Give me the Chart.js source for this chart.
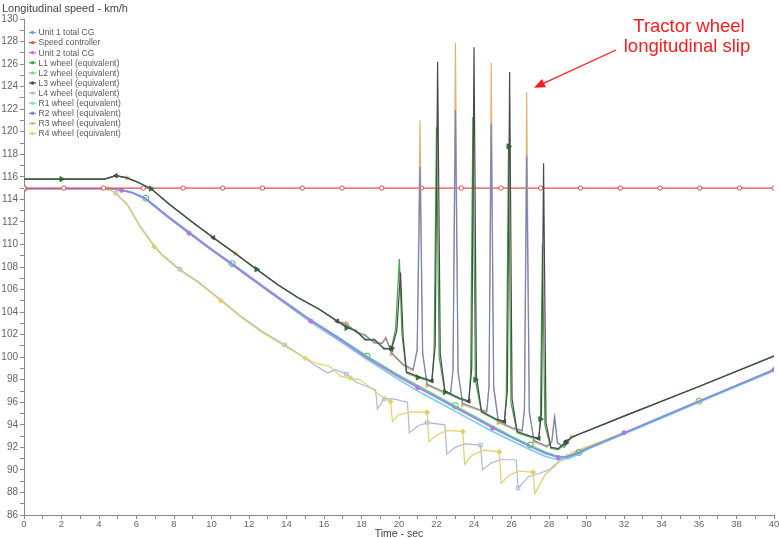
<!DOCTYPE html>
<html lang="en">
<head>
<meta charset="UTF-8">
<title>Longitudinal speed - km/h</title>
<script src="https://cdn.jsdelivr.net/npm/chart.js"></script>
<style>
  html, body { margin: 0; padding: 0; background: #fff; }
  #chart { display: block; }
</style>
</head>
<body>
<canvas id="chart" width="779" height="538"></canvas>
<script>
// ---- data (time in sec, speed in km/h) ----

// unit CGs, L2 and R1 wheels share one time base
const cgTime = [0, 4.6, 5.2, 5.8, 6.5, 7.6, 8.8, 10, 11.1, 13, 15.3, 16.7, 18.3, 19.9, 21, 22, 23, 24, 25, 26, 27, 27.8, 28.5, 29, 29.6, 30, 32, 34, 36, 38, 40];
const unit1Cg = [114.95, 114.95, 114.85, 114.6, 114.1, 112.6, 111.1, 109.6, 108.3, 106.0, 103.3, 101.8, 100.0, 98.4, 97.4, 96.5, 95.6, 94.7, 93.8, 92.9, 92.1, 91.5, 91.15, 91.15, 91.5, 91.85, 93.25, 94.65, 96.05, 97.45, 98.85];
const unit2Cg = [114.95, 114.95, 114.8, 114.55, 114.0, 112.5, 111.0, 109.5, 108.2, 105.9, 103.2, 101.7, 99.9, 98.3, 97.3, 96.4, 95.5, 94.6, 93.7, 92.85, 92.05, 91.45, 91.1, 91.2, 91.55, 91.9, 93.3, 94.7, 96.1, 97.5, 98.9];
const l2Wheel = [114.95, 114.95, 114.85, 114.6, 114.1, 112.6, 111.1, 109.6, 108.3, 106.0, 103.3, 101.85, 100.1, 98.5, 97.5, 96.6, 95.7, 94.8, 93.9, 93.0, 92.2, 91.6, 91.2, 91.2, 91.55, 91.9, 93.3, 94.7, 96.1, 97.5, 98.9];
const r1Wheel = [114.95, 114.95, 114.85, 114.6, 114.0, 112.55, 111.0, 109.5, 108.2, 105.9, 103.1, 101.6, 99.8, 98.1, 97.0, 96.1, 95.2, 94.3, 93.4, 92.6, 91.8, 91.2, 90.9, 91.0, 91.4, 91.8, 93.2, 94.6, 96.0, 97.4, 98.8];

// speed controller target
const ctrlTime = [0, 2.12, 4.24, 6.36, 8.48, 10.6, 12.72, 14.84, 16.96, 19.08, 21.2, 23.32, 25.44, 27.56, 29.68, 31.8, 33.92, 36.04, 38.16, 40];
const speedCtrl = [115, 115, 115, 115, 115, 115, 115, 115, 115, 115, 115, 115, 115, 115, 115, 115, 115, 115, 115, 115];

// tractor drive wheels, left side (slip spikes)
const l1Time = [0, 2, 4.3, 4.9, 5.5, 6.1, 6.77, 7.8, 8.97, 10.1, 11.27, 12.4, 13.56, 14.6, 15.7, 16.7, 17.2, 17.7, 18.2, 18.7, 19.2, 19.6, 19.82, 20.02, 20.16, 20.4, 21.0, 21.75, 21.87, 22.0, 22.14, 22.45, 23.2, 23.72, 23.82, 23.94, 24.07, 24.4, 25.2, 25.62, 25.72, 25.84, 25.97, 26.3, 27.0, 27.45, 27.54, 27.65, 27.78, 28.1, 28.5, 28.9, 29.2, 32, 36, 40];
const l1Wheel = [115.8, 115.8, 115.8, 116.1, 115.9, 115.5, 114.95, 113.5, 112.0, 110.6, 109.2, 107.8, 106.4, 105.3, 104.3, 103.2, 102.6, 102.4, 101.5, 101.6, 100.7, 100.8, 102.5, 108.7, 102.0, 98.6, 98.2, 97.8, 100.5, 120.4, 100.0, 96.9, 96.3, 96.0, 98.5, 121.3, 98.0, 95.1, 94.4, 94.2, 96.5, 118.7, 96.0, 93.3, 92.9, 92.7, 94.5, 110.0, 94.0, 91.9, 91.8, 92.4, 92.9, 94.77, 97.4, 100.1];
const l3Time = [0, 2, 4.3, 4.9, 5.5, 6.1, 6.77, 7.8, 8.97, 10.1, 11.27, 12.4, 13.56, 14.6, 15.7, 16.7, 17.2, 17.7, 18.2, 18.7, 19.2, 19.6, 19.88, 20.08, 20.22, 20.4, 21.0, 21.75, 21.93, 22.06, 22.2, 22.45, 23.2, 23.72, 23.88, 24.0, 24.13, 24.4, 25.2, 25.62, 25.78, 25.9, 26.03, 26.3, 27.0, 27.45, 27.6, 27.71, 27.84, 28.1, 28.5, 28.9, 29.2, 32, 36, 40];
const l3Wheel = [115.8, 115.8, 115.8, 116.1, 115.9, 115.5, 114.95, 113.5, 112.0, 110.6, 109.2, 107.8, 106.4, 105.3, 104.3, 103.2, 102.7, 102.3, 101.6, 101.5, 100.8, 100.7, 102.3, 107.5, 101.8, 98.7, 98.3, 97.9, 101.0, 126.2, 100.3, 97.0, 96.4, 96.1, 99.0, 127.5, 98.3, 95.2, 94.5, 94.3, 97.0, 125.3, 96.3, 93.4, 93.0, 92.8, 95.0, 117.2, 94.2, 92.0, 91.9, 92.5, 92.9, 94.77, 97.4, 100.1];

// tractor drive wheels, right side
const rightTime = [0, 2, 4.3, 4.9, 5.5, 6.1, 6.77, 7.8, 8.97, 10.1, 11.27, 12.4, 13.56, 14.6, 15.7, 16.7, 17.2, 17.7, 18.2, 18.7, 19.1, 19.3, 19.6, 20.2, 20.75, 20.97, 21.12, 21.26, 21.5, 22.3, 22.75, 22.88, 23.01, 23.15, 23.4, 24.2, 24.68, 24.8, 24.92, 25.05, 25.3, 26.1, 26.57, 26.69, 26.81, 26.95, 27.2, 27.9, 28.15, 28.3, 28.45, 28.8, 29.2, 32, 36, 40];
const r2Wheel = [115.8, 115.8, 115.8, 116.1, 115.9, 115.5, 114.95, 113.5, 112.0, 110.6, 109.2, 107.8, 106.4, 105.3, 104.3, 103.2, 102.9, 102.3, 101.9, 101.3, 101.2, 101.7, 100.4, 99.4, 98.9, 100.6, 116.9, 100.3, 97.6, 97.0, 96.8, 98.8, 121.9, 98.6, 95.9, 95.4, 95.2, 97.3, 120.7, 97.3, 94.3, 93.7, 93.5, 95.3, 117.8, 95.1, 92.6, 92.1, 92.5, 94.6, 92.4, 92.0, 92.9, 94.77, 97.4, 100.1];
const r3Wheel = [115.8, 115.8, 115.8, 116.1, 115.9, 115.5, 114.95, 113.5, 112.0, 110.6, 109.2, 107.8, 106.4, 105.3, 104.3, 103.2, 103.0, 102.2, 102.0, 101.2, 101.3, 101.8, 100.3, 99.3, 98.8, 100.8, 121.0, 100.5, 97.5, 96.9, 96.7, 99.0, 127.9, 98.8, 95.8, 95.3, 95.1, 97.5, 126.1, 97.5, 94.2, 93.6, 93.4, 95.5, 123.5, 95.3, 92.5, 92.0, 92.6, 95.0, 92.4, 92.0, 92.9, 94.77, 97.4, 100.1];

// trailer wheels (ABS sawtooth)
const l4Time = [0, 4.5, 4.9, 5.5, 6.2, 6.94, 7.38, 8.3, 9.3, 10.5, 11.6, 12.7, 13.9, 15.0, 15.6, 16.2, 16.6, 17.2, 17.7, 18.3, 18.75, 18.85, 19.2, 19.7, 20.45, 20.55, 21.0, 21.5, 22.45, 22.55, 23.0, 23.5, 24.35, 24.45, 24.9, 25.4, 26.25, 26.35, 26.9, 27.5, 28.0, 28.5, 29.0, 29.5, 32, 36, 40];
const l4Wheel = [114.95, 114.95, 114.55, 113.6, 111.6, 109.9, 109.1, 107.8, 106.7, 105.1, 103.6, 102.3, 101.1, 99.9, 99.2, 98.6, 98.9, 98.5, 97.8, 97.4, 97.1, 95.4, 96.3, 96.3, 96.0, 93.3, 93.9, 94.2, 94.0, 91.4, 92.0, 92.3, 92.2, 90.0, 90.6, 90.9, 90.9, 88.4, 89.4, 89.7, 90.0, 90.7, 91.2, 91.6, 93.3, 96.1, 98.9];
const r4Time = [0, 4.5, 4.9, 5.5, 6.2, 6.94, 7.38, 8.3, 9.3, 10.5, 11.6, 12.7, 13.9, 15.0, 15.7, 16.3, 16.9, 17.4, 17.9, 18.5, 19.0, 19.55, 19.65, 20.0, 20.6, 21.5, 21.6, 22.0, 22.6, 23.4, 23.5, 23.9, 24.5, 25.35, 25.45, 25.85, 26.4, 27.15, 27.25, 27.8, 28.3, 28.7, 29.3, 32, 36, 40];
const r4Wheel = [114.95, 114.95, 114.5, 113.5, 111.5, 109.8, 109.0, 107.7, 106.6, 105.0, 103.5, 102.2, 101.0, 99.9, 99.4, 99.2, 98.3, 98.15, 98.0, 97.3, 96.6, 96.05, 94.3, 94.9, 95.15, 95.1, 92.5, 93.1, 93.5, 93.4, 90.5, 91.3, 91.75, 91.6, 88.8, 89.5, 89.9, 89.8, 87.9, 89.6, 90.3, 91.0, 91.6, 93.3, 96.1, 98.9];

// where the red note points to
const slipTarget = { time: 27.2, speed: 123.9 };

const FONT = '"Liberation Sans", Arial, sans-serif';

function series(times, values) {
    return times.map((t, i) => ({ x: t, y: values[i] }));
}

// sparse markers like the simulation plot
function markerSize(every, offset, r) {
    return c => (c.dataIndex % every === offset ? r : 0);
}

function line(label, data, color, extra) {
    return Object.assign({
        label: label,
        data: data,
        borderColor: color,
        backgroundColor: color,
        borderWidth: 1.2,
        pointRadius: 0,
        pointBorderWidth: 1,
        pointBorderColor: color,
        pointBackgroundColor: color,
        fill: false
    }, extra);
}

const datasets = [
    line('Unit 1 total CG', series(cgTime, unit1Cg), '#6f9de2', { order: 6, borderWidth: 1.4 }),
    line('Speed controller', series(ctrlTime, speedCtrl), '#ee4a4a', {
        order: 5, pointRadius: 2.2, pointBackgroundColor: '#fff'
    }),
    line('Unit 2 total CG', series(cgTime, unit2Cg), '#d766d7', {
        order: 7, pointRadius: markerSize(4, 2, 2)
    }),
    line('L1 wheel (equivalent)', series(l1Time, l1Wheel), '#3ea83e', {
        order: 2, pointStyle: 'triangle', pointRotation: 90,
        pointRadius: markerSize(5, 1, 3), pointBackgroundColor: '#2b7d2b', pointBorderColor: '#2b7d2b'
    }),
    line('L2 wheel (equivalent)', series(cgTime, l2Wheel), '#74de74', {
        order: 9, pointRadius: markerSize(4, 0, 3), pointBackgroundColor: 'rgba(255,255,255,0)', pointBorderColor: '#48bb48'
    }),
    line('L3 wheel (equivalent)', series(l3Time, l3Wheel), '#4a4a4a', {
        order: 1, pointStyle: 'triangle', pointRotation: -90, pointRadius: markerSize(6, 3, 2.5)
    }),
    line('L4 wheel (equivalent)', series(l4Time, l4Wheel), '#aeb6dc', {
        order: 11, pointStyle: 'rect', pointRadius: markerSize(5, 2, 2.5), pointBackgroundColor: 'rgba(255,255,255,0)'
    }),
    line('R1 wheel (equivalent)', series(cgTime, r1Wheel), '#7fd5ef', { order: 8, borderWidth: 1.8 }),
    line('R2 wheel (equivalent)', series(rightTime, r2Wheel), '#7285c6', { order: 3 }),
    line('R3 wheel (equivalent)', series(rightTime, r3Wheel), '#e8b272', {
        order: 4, pointStyle: 'triangle', pointRotation: 90, pointRadius: markerSize(6, 4, 2.5)
    }),
    line('R4 wheel (equivalent)', series(r4Time, r4Wheel), '#e2d264', {
        order: 10, pointStyle: 'rectRot', pointRadius: markerSize(4, 1, 2.5)
    })
];

// legend drawn inside the plot, top-left
const insideLegend = {
    id: 'insideLegend',
    afterDraw(chart) {
        const ctx = chart.ctx;
        ctx.save();
        ctx.font = '8.5px ' + FONT;
        ctx.textBaseline = 'middle';
        ctx.textAlign = 'left';
        chart.data.datasets.forEach((ds, i) => {
            const y = 32.5 + i * 10.1;
            ctx.strokeStyle = ds.borderColor;
            ctx.lineWidth = 1.2;
            ctx.beginPath();
            ctx.moveTo(29, y);
            ctx.lineTo(36, y);
            ctx.stroke();
            ctx.fillStyle = ds.borderColor;
            ctx.beginPath();
            ctx.arc(32.5, y, 1.7, 0, Math.PI * 2);
            ctx.fill();
            ctx.fillStyle = '#5a5a5a';
            ctx.fillText(ds.label, 38.5, y + 0.5);
        });
        ctx.restore();
    }
};

// red note with arrow
const slipNote = {
    id: 'slipNote',
    afterDraw(chart) {
        const { ctx, scales } = chart;
        const tipX = scales.x.getPixelForValue(slipTarget.time);
        const tipY = scales.y.getPixelForValue(slipTarget.speed);
        const tailX = 616, tailY = 50;
        const ang = Math.atan2(tipY - tailY, tipX - tailX);
        const headLen = 11, headW = 4.5;
        const bx = tipX - headLen * Math.cos(ang);
        const by = tipY - headLen * Math.sin(ang);
        ctx.save();
        ctx.strokeStyle = '#ff1a1a';
        ctx.fillStyle = '#ff1a1a';
        ctx.lineWidth = 1.2;
        ctx.beginPath();
        ctx.moveTo(tailX, tailY);
        ctx.lineTo(bx, by);
        ctx.stroke();
        ctx.beginPath();
        ctx.moveTo(tipX, tipY);
        ctx.lineTo(bx - headW * Math.sin(ang), by + headW * Math.cos(ang));
        ctx.lineTo(bx + headW * Math.sin(ang), by - headW * Math.cos(ang));
        ctx.closePath();
        ctx.fill();
        ctx.font = '18.5px ' + FONT;
        ctx.textAlign = 'center';
        ctx.textBaseline = 'alphabetic';
        ctx.fillText('Tractor wheel', 689, 31.5);
        ctx.fillText('longitudinal slip', 687, 51.5);
        ctx.restore();
    }
};

const axisColor = '#8a8a8a';

new Chart(document.getElementById('chart'), {
    type: 'line',
    data: { datasets: datasets },
    options: {
        responsive: false,
        animation: false,
        devicePixelRatio: 1,
        layout: { padding: { left: 2 } },
        elements: { line: { tension: 0 } },
        plugins: {
            legend: { display: false },
            tooltip: { enabled: false },
            title: {
                display: true,
                text: 'Longitudinal speed - km/h',
                align: 'start',
                color: '#444',
                font: { family: FONT, size: 11, weight: 'normal' },
                padding: { top: 2, bottom: 3.8 }
            }
        },
        scales: {
            x: {
                type: 'linear',
                min: 0,
                max: 40,
                border: { color: axisColor },
                grid: { drawOnChartArea: false, tickLength: 4, color: axisColor },
                ticks: {
                    stepSize: 1,
                    autoSkip: false,
                    maxRotation: 0,
                    padding: 0,
                    color: '#666',
                    font: { family: FONT, size: 9.5 },
                    callback: v => (v % 2 === 0 ? v : '')
                },
                title: {
                    display: true,
                    text: 'Time - sec',
                    color: '#444',
                    font: { family: FONT, size: 10.5 },
                    padding: { top: 0, bottom: -2 }
                },
                afterFit: s => { s.height = 23; s.paddingLeft = 0; s.paddingRight = 0; }
            },
            y: {
                min: 86,
                max: 130,
                border: { color: axisColor },
                grid: { drawOnChartArea: false, tickLength: 4, color: axisColor },
                ticks: {
                    stepSize: 1,
                    autoSkip: false,
                    padding: 2,
                    color: '#666',
                    font: { family: FONT, size: 10 },
                    callback: v => (v % 2 === 0 ? v : '')
                },
                afterFit: s => { s.width = 22; s.paddingTop = 0; s.paddingBottom = 0; }
            }
        }
    },
    plugins: [insideLegend, slipNote]
});
</script>
</body>
</html>
